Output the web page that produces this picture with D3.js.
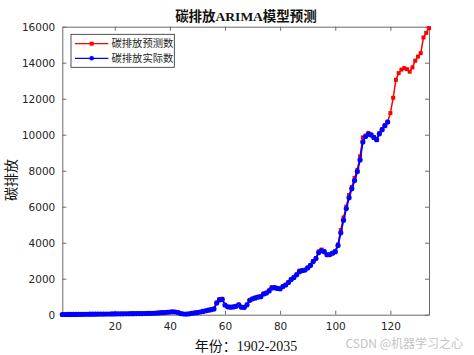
<!DOCTYPE html>
<html><head><meta charset="utf-8">
<script src="https://cdn.jsdelivr.net/npm/d3@7"></script>
<style>html,body{margin:0;padding:0;background:#fff;}</style>
</head><body>
<script>
const titleText = "碳排放ARIMA模型预测";
const xLabel = "年份：1902-2035";
const yLabel = "碳排放";
const seriesNames = ["碳排放预测数", "碳排放实际数"];
const xTicks = [20, 40, 60, 80, 100, 120];
const yTicks = [0, 2000, 4000, 6000, 8000, 10000, 12000, 14000, 16000];

// actual emissions, index 1..119
const actual = [
  10, 12, 14, 15, 17, 18, 20, 22, 24, 25,
  27, 29, 30, 32, 34, 36, 38, 40, 42, 44,
  46, 48, 50, 52, 54, 56, 58, 60, 62, 64,
  66, 70, 75, 80, 90, 100, 110, 120, 135, 150,
  160, 150, 120, 60, 40, 35, 50, 80, 100, 120,
  150, 180, 220, 250, 280, 320, 650, 820, 850, 540,
  440, 420, 430, 470, 550, 420, 410, 550, 800, 880,
  930, 980, 1000, 1150, 1200, 1320, 1480, 1500, 1460, 1440,
  1560, 1650, 1790, 1950, 2070, 2220, 2390, 2450, 2480, 2600,
  2740, 2950, 3120, 3450, 3560, 3500, 3330, 3340, 3420, 3500,
  3850, 4550, 5250, 5900, 6500, 7000, 7450, 7950, 8600, 9600,
  9900, 10030, 9990, 9850, 9720, 10050, 10280, 10500, 10700
];

// ARIMA fitted + forecast, index 1..134
const predicted = [
  10, 12, 14, 15, 17, 18, 20, 22, 24, 25,
  27, 29, 30, 32, 34, 36, 38, 40, 42, 44,
  46, 48, 50, 52, 54, 56, 58, 60, 62, 64,
  66, 70, 75, 80, 90, 100, 110, 120, 135, 150,
  160, 150, 120, 60, 40, 35, 50, 80, 100, 120,
  150, 180, 220, 250, 280, 320, 680, 870, 880, 540,
  440, 420, 430, 470, 560, 420, 410, 560, 820, 880,
  940, 990, 1010, 1180, 1220, 1340, 1530, 1510, 1460, 1440,
  1570, 1660, 1800, 1970, 2080, 2240, 2450, 2460, 2480, 2610,
  2760, 2980, 3150, 3520, 3620, 3510, 3330, 3340, 3420, 3520,
  3900, 4700, 5400, 6000, 6650, 7100, 7600, 8050, 8800, 9850,
  9950, 10100, 10000, 9850, 9730, 10080, 10300, 10520, 10720,
  11200, 12050, 13050, 13420, 13620, 13700, 13640, 13500, 13740, 14110,
  14340, 14530, 15400, 15660, 15920
];

const W = 474, H = 355;
const L = 62.3, R = 429, T = 26.7, B = 314.7;
const axisColor = "#6a6a6a";

const svg = d3.select("body").append("svg").attr("width", W).attr("height", H)
  .style("font-family", "'DejaVu Sans', sans-serif");
svg.append("rect").attr("width", W).attr("height", H).attr("fill", "#fff");

const x = d3.scaleLinear().domain([1, 134]).range([L, R]);
const y = d3.scaleLinear().domain([0, 16000]).range([B, T]);

// axes
const xAxis = svg.append("g").attr("transform", `translate(0,${B})`)
  .call(d3.axisBottom(x).tickValues(xTicks).tickSizeInner(-4).tickSizeOuter(0).tickPadding(8));
const xAxisTop = svg.append("g").attr("transform", `translate(0,${T})`)
  .call(d3.axisTop(x).tickValues(xTicks).tickSizeInner(-4).tickSizeOuter(0).tickFormat(""));
const yAxis = svg.append("g").attr("transform", `translate(${L},0)`)
  .call(d3.axisLeft(y).tickValues(yTicks).tickSizeInner(-4).tickSizeOuter(0).tickPadding(7).tickFormat(d3.format("d")));
const yAxisR = svg.append("g").attr("transform", `translate(${R},0)`)
  .call(d3.axisRight(y).tickValues(yTicks).tickSizeInner(-4).tickSizeOuter(0).tickFormat(""));
[xAxis, xAxisTop, yAxis, yAxisR].forEach(g => {
  g.select(".domain").attr("stroke", axisColor).attr("stroke-width", 1);
  g.selectAll(".tick line").attr("stroke", axisColor);
  g.selectAll(".tick text").attr("fill", "#262626").style("font-size", "10.5px")
   .style("font-family", "'DejaVu Sans', sans-serif");
});

const idx = d3.range(1, 135);
const line = d3.line().x(d => x(d[0])).y(d => y(d[1]));
const predData = predicted.map((v, i) => [idx[i], v]);
const actData = actual.map((v, i) => [idx[i], v]);

// predicted (red)
svg.append("path").datum(predData).attr("d", line).attr("fill", "none")
  .attr("stroke", "#ff0000").attr("stroke-width", 1.5);
svg.append("g").selectAll("rect").data(predData).join("rect")
  .attr("x", d => x(d[0]) - 2).attr("y", d => y(d[1]) - 2)
  .attr("width", 4).attr("height", 4).attr("fill", "#ff0000");

// actual (blue)
svg.append("path").datum(actData).attr("d", line).attr("fill", "none")
  .attr("stroke", "#0000ff").attr("stroke-width", 1.8);
svg.append("g").selectAll("circle").data(actData).join("circle")
  .attr("cx", d => x(d[0])).attr("cy", d => y(d[1])).attr("r", 2.6)
  .attr("fill", "#0000ff");

// legend
const lg = svg.append("g");
lg.append("rect").attr("x", 71).attr("y", 34.3).attr("width", 103.3).attr("height", 33)
  .attr("fill", "#fff").attr("stroke", "#262626").attr("stroke-width", 0.8);
const legendColors = ["#ff0000", "#0000ff"];
seriesNames.forEach((name, i) => {
  const yy = 43.7 + i * 14.6;
  lg.append("line").attr("x1", 75).attr("x2", 108.3).attr("y1", yy).attr("y2", yy)
    .attr("stroke", legendColors[i]).attr("stroke-width", 1.2);
  if (i === 0) {
    lg.append("rect").attr("x", 89.7).attr("y", yy - 2).attr("width", 4).attr("height", 4)
      .attr("fill", legendColors[i]);
  } else {
    lg.append("circle").attr("cx", 91.7).attr("cy", yy).attr("r", 2.3).attr("fill", legendColors[i]);
  }
  lg.append("text").attr("x", 111.5).attr("y", yy).attr("dy", "0.36em")
    .style("font-family", "'Noto Sans CJK SC', sans-serif").style("font-size", "10.3px")
    .attr("fill", "#262626").text(name);
});

// title
svg.append("text").attr("x", 246).attr("y", 16).attr("dy", "0.35em").attr("text-anchor", "middle")
  .style("font-family", "'Liberation Serif', 'Noto Sans CJK SC', serif").style("font-size", "13.5px")
  .style("font-weight", "bold").attr("fill", "#111").text(titleText);

// x label
svg.append("text").attr("x", 246).attr("y", 346).attr("dy", "0.35em").attr("text-anchor", "middle")
  .style("font-family", "'Liberation Serif', 'Noto Sans CJK SC', serif").style("font-size", "14px")
  .attr("fill", "#111").text(xLabel);

// y label
svg.append("text").attr("transform", "translate(11,180) rotate(-90)").attr("dy", "0.35em")
  .attr("text-anchor", "middle")
  .style("font-family", "'Noto Sans CJK SC', sans-serif").style("font-size", "14px")
  .attr("fill", "#111").text(yLabel);

// watermark
svg.append("text").attr("x", 463).attr("y", 343.5).attr("dy", "0.35em").attr("text-anchor", "end")
  .style("font-family", "'Noto Sans CJK SC', sans-serif").style("font-size", "12px")
  .attr("fill", "#c4c4c4").text("CSDN @机器学习之心");
</script>
</body></html>
